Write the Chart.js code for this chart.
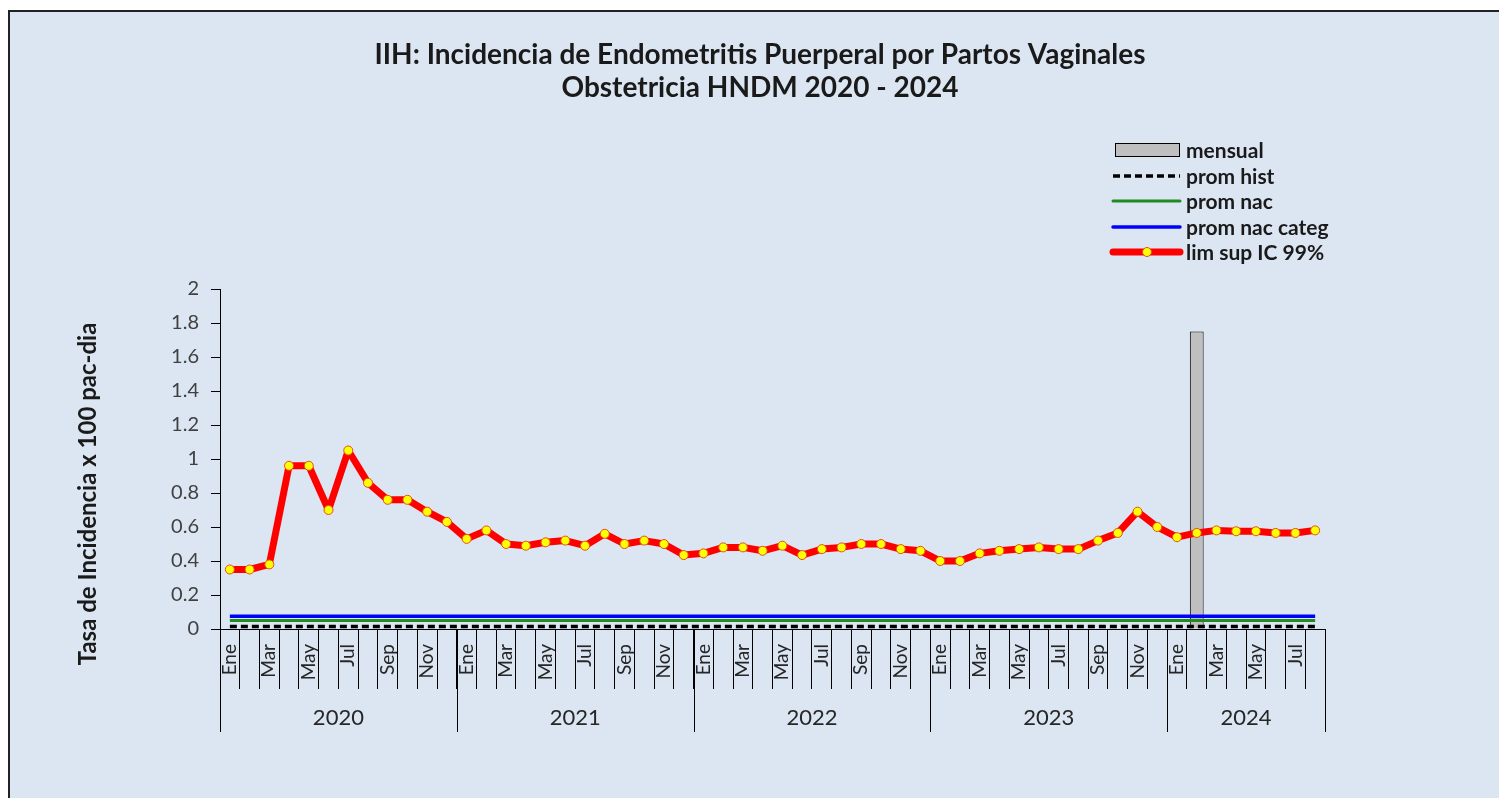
<!DOCTYPE html>
<html>
<head>
<meta charset="utf-8">
<script src="https://cdn.jsdelivr.net/npm/chart.js@4"></script>
<style>
  body { margin: 0; background: #fff; overflow: hidden; }
</style>
</head>
<body>
<canvas id="myChart" width="1499" height="798"></canvas>
<script>
// Meses y años del eje X
const meses = ['Ene', 'Feb', 'Mar', 'Abr', 'May', 'Jun', 'Jul', 'Ago', 'Sep', 'Oct', 'Nov', 'Dic'];
const anios = ['2020', '2021', '2022', '2023', '2024'];
const mesesPorAnio = [12, 12, 12, 12, 8];

// Tasa mensual (solo hay un valor en Feb 2024)
const mensual = [
  0, 0, 0, 0, 0, 0, 0, 0, 0, 0, 0, 0,
  0, 0, 0, 0, 0, 0, 0, 0, 0, 0, 0, 0,
  0, 0, 0, 0, 0, 0, 0, 0, 0, 0, 0, 0,
  0, 0, 0, 0, 0, 0, 0, 0, 0, 0, 0, 0,
  0, 1.75, 0, 0, 0, 0, 0, 0
];

const promHist = [
  0.015, 0.015, 0.015, 0.015, 0.015, 0.015, 0.015, 0.015, 0.015, 0.015, 0.015, 0.015,
  0.015, 0.015, 0.015, 0.015, 0.015, 0.015, 0.015, 0.015, 0.015, 0.015, 0.015, 0.015,
  0.015, 0.015, 0.015, 0.015, 0.015, 0.015, 0.015, 0.015, 0.015, 0.015, 0.015, 0.015,
  0.015, 0.015, 0.015, 0.015, 0.015, 0.015, 0.015, 0.015, 0.015, 0.015, 0.015, 0.015,
  0.015, 0.015, 0.015, 0.015, 0.015, 0.015, 0.015, 0.015
];

const promNac = [
  0.05, 0.05, 0.05, 0.05, 0.05, 0.05, 0.05, 0.05, 0.05, 0.05, 0.05, 0.05,
  0.05, 0.05, 0.05, 0.05, 0.05, 0.05, 0.05, 0.05, 0.05, 0.05, 0.05, 0.05,
  0.05, 0.05, 0.05, 0.05, 0.05, 0.05, 0.05, 0.05, 0.05, 0.05, 0.05, 0.05,
  0.05, 0.05, 0.05, 0.05, 0.05, 0.05, 0.05, 0.05, 0.05, 0.05, 0.05, 0.05,
  0.05, 0.05, 0.05, 0.05, 0.05, 0.05, 0.05, 0.05
];

const promNacCateg = [
  0.075, 0.075, 0.075, 0.075, 0.075, 0.075, 0.075, 0.075, 0.075, 0.075, 0.075, 0.075,
  0.075, 0.075, 0.075, 0.075, 0.075, 0.075, 0.075, 0.075, 0.075, 0.075, 0.075, 0.075,
  0.075, 0.075, 0.075, 0.075, 0.075, 0.075, 0.075, 0.075, 0.075, 0.075, 0.075, 0.075,
  0.075, 0.075, 0.075, 0.075, 0.075, 0.075, 0.075, 0.075, 0.075, 0.075, 0.075, 0.075,
  0.075, 0.075, 0.075, 0.075, 0.075, 0.075, 0.075, 0.075
];

const limSup = [
  0.35, 0.35, 0.38, 0.96, 0.96, 0.70, 1.05, 0.86, 0.76, 0.76, 0.69, 0.63,
  0.53, 0.58, 0.50, 0.49, 0.51, 0.52, 0.49, 0.56, 0.50, 0.52, 0.50, 0.435,
  0.445, 0.48, 0.48, 0.46, 0.49, 0.435, 0.47, 0.48, 0.50, 0.50, 0.47, 0.46,
  0.40, 0.40, 0.445, 0.46, 0.47, 0.48, 0.47, 0.47, 0.52, 0.565, 0.69, 0.60,
  0.54, 0.565, 0.58, 0.575, 0.575, 0.565, 0.565, 0.58
];

// etiquetas de mes para cada punto
const labels = [];
mesesPorAnio.forEach(n => {
  for (let i = 0; i < n; i++) labels.push(meses[i]);
});

const FONT = 'Lato, "Open Sans", sans-serif';

// fondo, título, leyenda, eje de años
const extras = {
  id: 'extras',
  beforeDraw(chart) {
    const ctx = chart.ctx;
    ctx.save();
    ctx.fillStyle = '#ffffff';
    ctx.fillRect(0, 0, chart.width, chart.height);
    ctx.fillStyle = '#dce6f2';
    ctx.fillRect(8, 10, chart.width, chart.height);
    ctx.strokeStyle = '#222';
    ctx.lineWidth = 2;
    ctx.beginPath();
    ctx.moveTo(9, chart.height);
    ctx.lineTo(9, 11);
    ctx.lineTo(chart.width, 11);
    ctx.stroke();
    ctx.restore();
  },
  afterDraw(chart) {
    const ctx = chart.ctx;
    const xs = chart.scales.x;
    const area = chart.chartArea;
    ctx.save();

    // título
    ctx.fillStyle = '#1a1a1a';
    ctx.textAlign = 'center';
    ctx.textBaseline = 'middle';
    ctx.font = 'bold 28px ' + FONT;
    ctx.fillText('IIH: Incidencia de Endometritis Puerperal por Partos Vaginales', 760, 55);
    ctx.fillText('Obstetricia HNDM 2020 - 2024', 760, 88);

    // título eje Y
    ctx.save();
    ctx.translate(88, 494);
    ctx.rotate(-Math.PI / 2);
    ctx.font = 'bold 24px ' + FONT;
    ctx.fillText('Tasa de Incidencia x 100 pac-dia', 0, 0);
    ctx.restore();

    // años
    const half = (xs.getPixelForValue(1) - xs.getPixelForValue(0)) / 2;
    ctx.strokeStyle = '#000';
    ctx.lineWidth = 1;
    ctx.font = '22px ' + FONT;
    ctx.fillStyle = '#262626';
    let idx = 0;
    anios.forEach((a, k) => {
      const x0 = xs.getPixelForValue(idx) - half;
      const x1 = xs.getPixelForValue(idx + mesesPorAnio[k] - 1) + half;
      ctx.beginPath();
      ctx.moveTo(Math.round(x0) + 0.5, area.bottom);
      ctx.lineTo(Math.round(x0) + 0.5, 732);
      if (k === anios.length - 1) {
        ctx.moveTo(Math.round(x1) + 0.5, area.bottom);
        ctx.lineTo(Math.round(x1) + 0.5, 732);
      }
      ctx.stroke();
      ctx.fillText(a, (x0 + x1) / 2, 718);
      idx += mesesPorAnio[k];
    });

    // leyenda
    const ds = chart.data.datasets;
    const lx = 1113, tx = 1186;
    const rows = [150, 176, 201, 227, 252];
    ctx.textAlign = 'left';
    ctx.font = 'bold 21px ' + FONT;
    ds.forEach((d, i) => {
      const y = rows[i];
      if (d.type === 'bar') {
        ctx.fillStyle = d.backgroundColor;
        ctx.fillRect(1115, y - 7, 64, 14);
        ctx.strokeStyle = '#000';
        ctx.lineWidth = 1;
        ctx.strokeRect(1115.5, y - 6.5, 64, 13);
      } else {
        ctx.strokeStyle = d.borderColor;
        ctx.lineWidth = d.borderWidth;
        ctx.lineCap = d.borderDash ? 'butt' : 'round';
        ctx.setLineDash(d.borderDash || []);
        ctx.beginPath();
        ctx.moveTo(lx, y);
        ctx.lineTo(1180, y);
        ctx.stroke();
        ctx.setLineDash([]);
        if (d.pointRadius > 0) {
          ctx.beginPath();
          ctx.arc(1147, y, d.pointRadius, 0, Math.PI * 2);
          ctx.fillStyle = d.pointBackgroundColor;
          ctx.fill();
          ctx.lineWidth = 1;
          ctx.strokeStyle = d.pointBorderColor;
          ctx.stroke();
        }
      }
      ctx.fillStyle = '#1a1a1a';
      ctx.fillText(d.label, tx, y + 1);
    });
    ctx.restore();
  }
};

const ctx = document.getElementById('myChart').getContext('2d');

new Chart(ctx, {
  type: 'bar',
  data: {
    labels: labels,
    datasets: [
      {
        type: 'bar',
        label: 'mensual',
        data: mensual,
        backgroundColor: '#bfbfbf',
        borderColor: '#000',
        borderWidth: 1,
        barPercentage: 0.7,
        categoryPercentage: 1.0,
        order: 10
      },
      {
        type: 'line',
        label: 'prom hist',
        data: promHist,
        borderColor: '#000',
        borderWidth: 3.5,
        borderDash: [7, 4],
        pointRadius: 0,
        order: 3
      },
      {
        type: 'line',
        label: 'prom nac',
        data: promNac,
        borderColor: '#1e8c1e',
        borderWidth: 3,
        pointRadius: 0,
        order: 4
      },
      {
        type: 'line',
        label: 'prom nac categ',
        data: promNacCateg,
        borderColor: '#0000ff',
        borderWidth: 3.5,
        pointRadius: 0,
        order: 5
      },
      {
        type: 'line',
        label: 'lim sup IC 99%',
        data: limSup,
        borderColor: '#ff0000',
        borderWidth: 7,
        borderJoinStyle: 'round',
        pointRadius: 4.5,
        pointBackgroundColor: '#ffff00',
        pointBorderColor: '#e0501a',
        pointBorderWidth: 1,
        order: 1
      }
    ]
  },
  options: {
    responsive: false,
    animation: false,
    layout: {
      padding: { top: 289, right: 174, bottom: 64, left: 0 }
    },
    plugins: {
      legend: { display: false },
      title: { display: false },
      tooltip: { enabled: false }
    },
    scales: {
      x: {
        offset: true,
        afterFit: (scale) => { scale.height = 105; },
        grid: {
          offset: true,
          drawOnChartArea: false,
          drawTicks: true,
          tickLength: 60,
          color: '#000',
          lineWidth: 1
        },
        border: { color: '#000', width: 1 },
        ticks: {
          autoSkip: false,
          minRotation: 90,
          maxRotation: 90,
          padding: -45,
          color: '#262626',
          font: { family: FONT, size: 19 },
          callback: function (value, index) {
            return index % 2 === 0 ? this.getLabelForValue(value) : '';
          }
        }
      },
      y: {
        min: 0,
        max: 2,
        afterFit: (scale) => { scale.width = 220; },
        grid: {
          drawOnChartArea: false,
          drawTicks: true,
          tickLength: 9,
          color: '#000'
        },
        border: { color: '#000', width: 1 },
        ticks: {
          stepSize: 0.2,
          padding: 12,
          color: '#404040',
          font: { family: FONT, size: 20 },
          callback: (v) => String(Number(v.toFixed(1)))
        }
      }
    }
  },
  plugins: [extras]
});
</script>
</body>
</html>
